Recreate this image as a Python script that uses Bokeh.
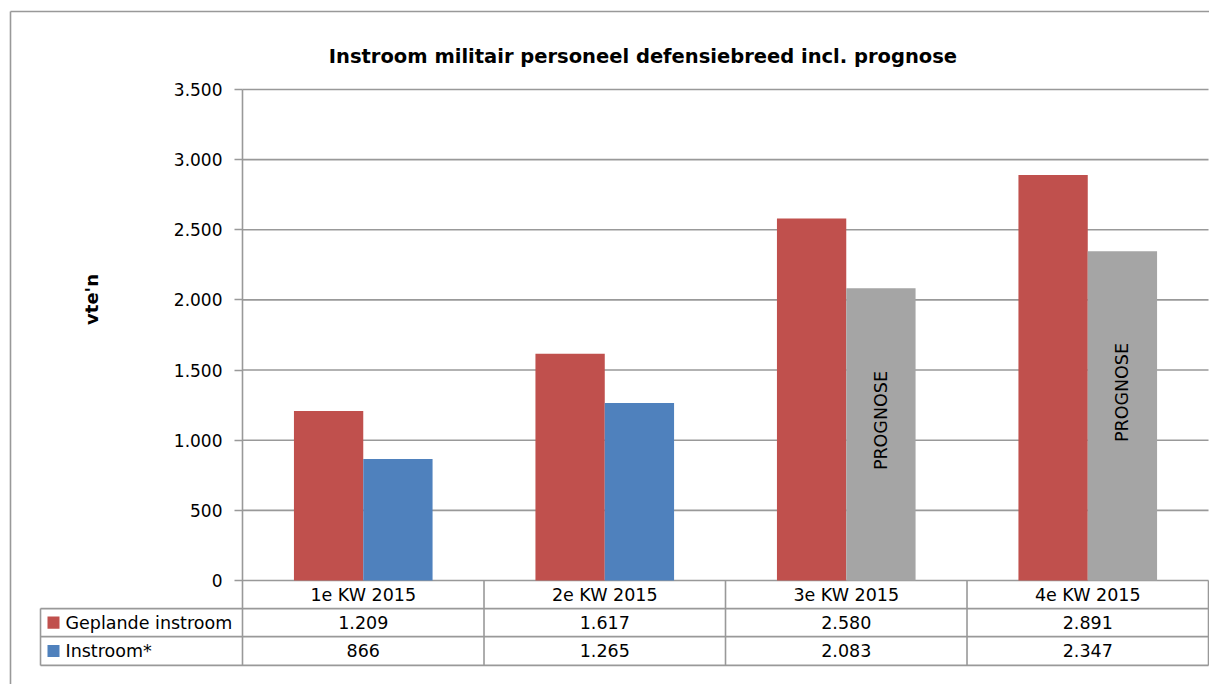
from math import pi
from bokeh.plotting import figure
from bokeh.models import ColumnDataSource, Range1d, FixedTicker, Label
from bokeh.transform import dodge
from bokeh.core.properties import value
from bokeh.embed import file_html
from bokeh.resources import INLINE

# ---- data ----
categories = ["1e KW 2015", "2e KW 2015", "3e KW 2015", "4e KW 2015"]
geplande = [1209, 1617, 2580, 2891]
instroom = [866, 1265, 2083, 2347]
is_prognose = [False, False, True, True]
series_names = ["Geplande instroom", "Instroom*"]
y_ticks = [0, 500, 1000, 1500, 2000, 2500, 3000, 3500]
title_text = "Instroom militair personeel defensiebreed incl. prognose"
y_label = "vte'n"
prognose_text = "PROGNOSE"

# ---- styles ----
RED = "#C0504D"
BLUE = "#4F81BD"
GREY_BAR = "#A5A5A5"
LINE = "#999999"
LW = 1.6
FONT = "DejaVu Sans"


def nl(v):
    return f"{v:,}".replace(",", ".")


n = len(categories)
src = ColumnDataSource(dict(
    cat=categories,
    xc=[i + 0.5 for i in range(n)],
    geplande=geplande,
    instroom=instroom,
    inst_color=[GREY_BAR if pr else BLUE for pr in is_prognose],
    gep_lbl=[nl(v) for v in geplande],
    inst_lbl=[nl(v) for v in instroom],
))

# frame covers the whole canvas; one category = 241.5 px, 500 units = 70.14 px
X_END = 4.0041
p = figure(x_range=Range1d(-1.0021, X_END), y_range=Range1d(-741, 4134),
           width=1209, height=684, output_backend="svg", toolbar_location=None,
           x_axis_location=None, title=None,
           min_border_left=0, min_border_right=0, min_border_top=0, min_border_bottom=0)
p.outline_line_color = None
p.background_fill_color = "white"
p.border_fill_color = "white"
p.xgrid.visible = False
p.ygrid.visible = False

# outer chart border (left and top)
p.segment(x0=[-0.9607, -0.9607], y0=[4056, 4056], x1=[-0.9607, X_END], y1=[-741, 4056],
          line_color=LINE, line_width=LW)

# horizontal grid lines across the plot area
p.segment(x0=[0] * len(y_ticks), x1=[n] * len(y_ticks), y0=y_ticks, y1=y_ticks,
          line_color=LINE, line_width=LW)

# bars
BW = 0.287
OFF = 0.1435
p.vbar(x=dodge("xc", -OFF), top="geplande", width=BW,
       source=src, fill_color=RED, line_color=None)
p.vbar(x=dodge("xc", OFF), top="instroom", width=BW,
       source=src, fill_color="inst_color", line_color=None)

# y axis drawn at the left edge of the first category
ax = p.yaxis[0]
ax.fixed_location = 0
ax.bounds = (-605, 3500)
ax.ticker = FixedTicker(ticks=y_ticks)
ax.major_label_overrides = {t: nl(t) for t in y_ticks}
ax.axis_line_color = LINE
ax.axis_line_width = LW
ax.major_tick_line_color = LINE
ax.major_tick_line_width = LW
ax.major_tick_in = 0
ax.major_tick_out = 8
ax.minor_tick_line_color = None
ax.major_label_text_font = FONT
ax.major_label_text_font_size = "17px"
ax.major_label_text_color = "black"
ax.major_label_standoff = 12

# data table
LX0 = -0.8364
p.segment(x0=[LX0, LX0, LX0, LX0] + list(range(1, n + 1)),
          y0=[-200, -400, -605, -200] + [0] * n,
          x1=[n, n, n, LX0] + list(range(1, n + 1)),
          y1=[-200, -400, -605, -605] + [-605] * n,
          line_color=LINE, line_width=LW)
tf = dict(text_font=value(FONT), text_font_size=value("17.5px"),
          text_align="center", text_baseline="middle", text_color="black")
p.text(x="xc", y=-100, text="cat", source=src, **tf)
p.text(x="xc", y=-300, text="gep_lbl", source=src, **tf)
p.text(x="xc", y=-502, text="inst_lbl", source=src, **tf)

# legend column of the table
p.quad(left=[-0.8075, -0.8075], right=[-0.7578, -0.7578],
       top=[-300 + 43, -502 + 43], bottom=[-300 - 43, -502 - 43],
       fill_color=[RED, BLUE], line_color=None)
p.text(x=[-0.733, -0.733], y=[-300, -502], text=series_names,
       text_font=value(FONT), text_font_size=value("17.5px"),
       text_align="left", text_baseline="middle", text_color="black")

# title
p.add_layout(Label(x=1.658, y=3735, text=title_text, text_font=FONT,
                   text_font_size="19.5px", text_font_style="bold",
                   text_align="center", text_baseline="middle", text_color="black"))

# y label
p.add_layout(Label(x=-0.625, y=2003, text=y_label, angle=pi / 2, text_font=FONT,
                   text_font_size="18px", text_font_style="bold",
                   text_align="center", text_baseline="middle", text_color="black"))

# prognose labels in the grey bars
for i, yc in [(2, 1140), (3, 1340)]:
    p.add_layout(Label(x=i + 0.5 + OFF, y=yc, text=prognose_text, angle=pi / 2,
                       text_font=FONT, text_font_size="17.5px",
                       text_align="center", text_baseline="middle", text_color="black"))

open("out.html", "w").write(file_html(p, INLINE))
